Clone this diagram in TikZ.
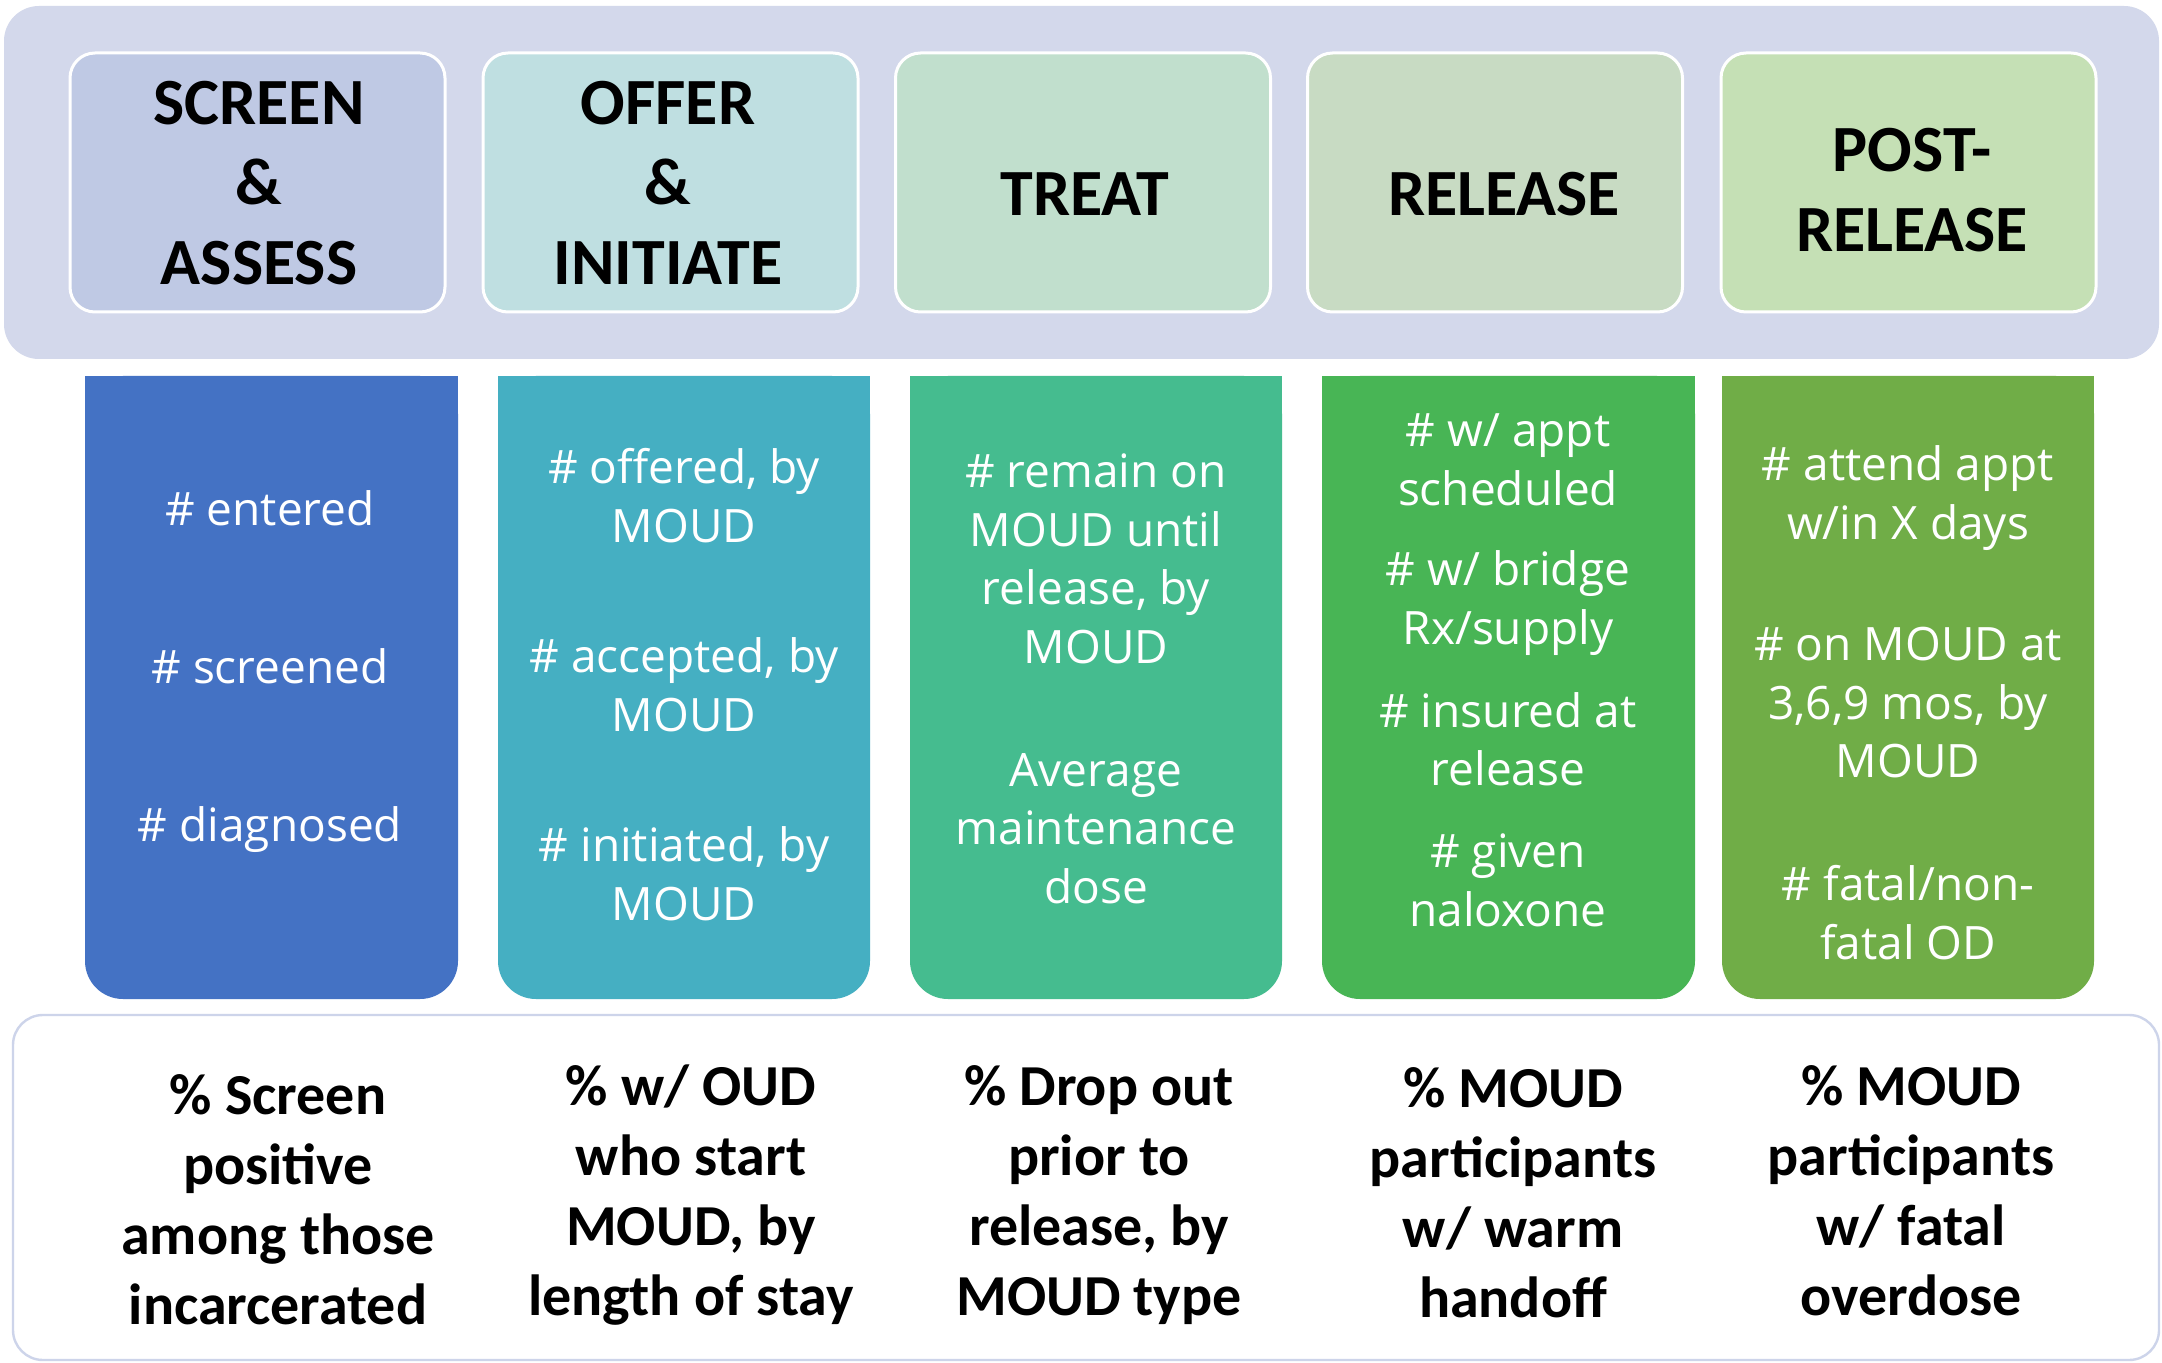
\documentclass[tikz,border=0pt]{standalone}
\usepackage{fontspec}
\setmainfont{Carlito}
\newfontfamily\bodyfont{Open Sans}
\definecolor{outerbg}{HTML}{D3D8EB}
\definecolor{hA}{HTML}{BFC9E4}
\definecolor{hB}{HTML}{BFDFE1}
\definecolor{hC}{HTML}{C1DFCD}
\definecolor{hD}{HTML}{C8DBC3}
\definecolor{hE}{HTML}{C5E0B5}
\definecolor{cA}{HTML}{4472C4}
\definecolor{cB}{HTML}{45AFC2}
\definecolor{cC}{HTML}{45BC8F}
\definecolor{cD}{HTML}{48B555}
\definecolor{cE}{HTML}{70AD47}
\definecolor{botline}{HTML}{CDD4EA}
\newcommand\ms{\rule[-0.2em]{0pt}{1em}}
\tikzset{
  hdrbox/.style={draw=white, line width=1.5pt, rounded corners=12.5pt,
    minimum width=187.5pt, minimum height=129.5pt, inner sep=0pt},
  hdrtxt/.style={font=\fontsize{33}{40}\selectfont\bfseries, align=center, inner sep=0pt, text=black},
  bodytxt/.style={font=\bodyfont\fontsize{23}{29.25}\selectfont, text=white, align=center, inner sep=0pt},
  bottxt/.style={font=\fontsize{29}{35}\selectfont\bfseries, align=center, inner sep=0pt, text=black}
}
\begin{document}
\begin{tikzpicture}[x=0.5pt,y=-0.5pt]
\useasboundingbox (0,0) rectangle (2162,1363);
\fill[white] (0,0) rectangle (2162,1363);
% top band
\fill[outerbg, rounded corners=17.5pt] (4,6) rectangle (2159,359);
% header boxes
\node[hdrbox, fill=hA] (hb1) at (257.5,182.5) {};
\node[hdrbox, fill=hB] (hb2) at (670.5,182.5) {};
\node[hdrbox, fill=hC] (hb3) at (1083,182.5) {};
\node[hdrbox, fill=hD] (hb4) at (1495,182.5) {};
\node[hdrbox, fill=hE] (hb5) at (1908.5,182.5) {};
\node[hdrtxt] (ht1) at (259,185) {\ms SCREEN\\\ms\&\\\ms ASSESS};
\node[hdrtxt] (ht2) at (668,185) {\ms OFFER\\\ms\&\\\ms INITIATE};
\node[hdrtxt] (ht3) at (1085,196) {\ms TREAT};
\node[hdrtxt] (ht4) at (1504,196) {\ms RELEASE};
\node[hdrtxt] (ht5) at (1912,192) {\ms POST-\\\ms RELEASE};
% columns
\foreach \xa/\xb/\cc in {85/458/cA, 498/870/cB, 910/1282/cC, 1322/1695/cD, 1722/2094/cE}{
  \fill[\cc, rounded corners=19pt] (\xa,376) rectangle (\xb,999);
  \fill[\cc] (\xa,376) rectangle (\xb,700);
}
% column texts
\node[bodytxt] (a1) at (270,511.5) {\ms\# entered};
\node[bodytxt] (a2) at (270,670) {\ms\# screened};
\node[bodytxt] (a3) at (270,828.6) {\ms\# diagnosed};
\node[bodytxt] (b1) at (684,499) {\ms\# offered, by\\\ms MOUD};
\node[bodytxt] (b2) at (684,688) {\ms\# accepted, by\\\ms MOUD};
\node[bodytxt] (b3) at (684,877) {\ms\# initiated, by\\\ms MOUD};
\node[bodytxt] (c1) at (1096,561.6) {\ms\# remain on\\\ms MOUD until\\\ms release, by\\\ms MOUD};
\node[bodytxt] (c2) at (1096,831) {\ms Average\\\ms maintenance\\\ms dose};
\node[bodytxt] (d1) at (1508,462) {\ms\# w/ appt\\\ms scheduled};
\node[bodytxt] (d2) at (1508,602) {\ms\# w/ bridge\\\ms Rx/supply};
\node[bodytxt] (d3) at (1508,742.5) {\ms\# insured at\\\ms release};
\node[bodytxt] (d4) at (1508,883) {\ms\# given\\\ms naloxone};
\node[bodytxt] (e1) at (1908,497) {\ms\# attend appt\\\ms w/in X days};
\node[bodytxt] (e2) at (1908,705.5) {\ms\# on MOUD at\\\ms 3,6,9 mos, by\\\ms MOUD};
\node[bodytxt] (e3) at (1908,916) {\ms\# fatal/non-\\\ms fatal OD};
% bottom band
\draw[botline, line width=1.2pt, fill=white, rounded corners=15pt] (13,1015) rectangle (2159,1360);
\node[bottxt] (f1) at (278,1201.6) {\ms\% Screen\\\ms positive\\\ms among those\\\ms incarcerated};
\node[bottxt] (f2) at (691,1193.4) {\ms\% w/ OUD\\\ms who start\\\ms MOUD, by\\\ms length of stay};
\node[bottxt] (f3) at (1099,1193.4) {\ms\% Drop out\\\ms prior to\\\ms release, by\\\ms MOUD type};
\node[bottxt] (f4) at (1513,1194.7) {\ms\% MOUD\\\ms participants\\\ms w/ warm\\\ms handoff};
\node[bottxt] (f5) at (1911,1193.4) {\ms\% MOUD\\\ms participants\\\ms w/ fatal\\\ms overdose};
\end{tikzpicture}
\end{document}
